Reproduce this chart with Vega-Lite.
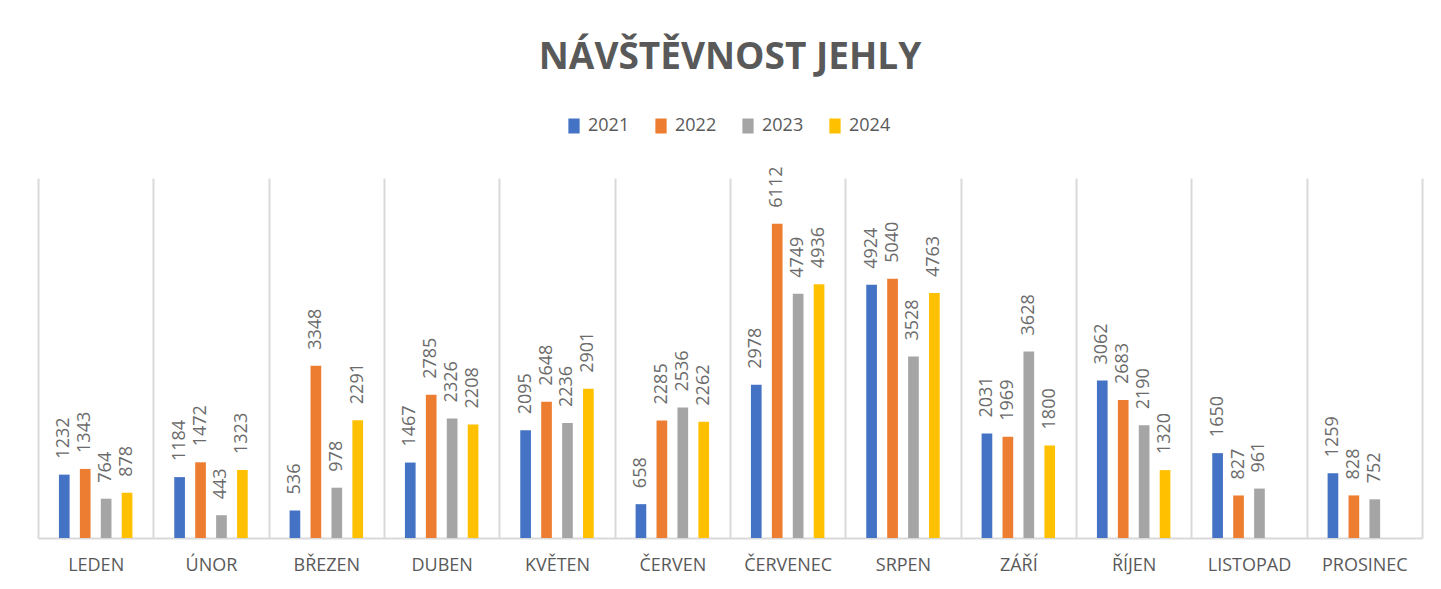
{
  "$schema": "https://vega.github.io/schema/vega-lite/v6.json",
  "width": 1384,
  "height": 360,
  "autosize": {"type": "none"},
  "padding": {"left": 38, "top": 178, "right": 19, "bottom": 51},
  "background": "white",
  "title": {
    "text": "NÁVŠTĚVNOST JEHLY",
    "font": "Open Sans",
    "fontSize": 37,
    "fontWeight": "bold",
    "color": "#595959",
    "anchor": "middle",
    "offset": 40
  },
  "config": {
    "view": {"stroke": null},
    "font": "Open Sans"
  },
  "data": {
    "values": [
      {"mesic": "LEDEN", "rok": "2021", "navstevy": 1232},
      {"mesic": "LEDEN", "rok": "2022", "navstevy": 1343},
      {"mesic": "LEDEN", "rok": "2023", "navstevy": 764},
      {"mesic": "LEDEN", "rok": "2024", "navstevy": 878},
      {"mesic": "ÚNOR", "rok": "2021", "navstevy": 1184},
      {"mesic": "ÚNOR", "rok": "2022", "navstevy": 1472},
      {"mesic": "ÚNOR", "rok": "2023", "navstevy": 443},
      {"mesic": "ÚNOR", "rok": "2024", "navstevy": 1323},
      {"mesic": "BŘEZEN", "rok": "2021", "navstevy": 536},
      {"mesic": "BŘEZEN", "rok": "2022", "navstevy": 3348},
      {"mesic": "BŘEZEN", "rok": "2023", "navstevy": 978},
      {"mesic": "BŘEZEN", "rok": "2024", "navstevy": 2291},
      {"mesic": "DUBEN", "rok": "2021", "navstevy": 1467},
      {"mesic": "DUBEN", "rok": "2022", "navstevy": 2785},
      {"mesic": "DUBEN", "rok": "2023", "navstevy": 2326},
      {"mesic": "DUBEN", "rok": "2024", "navstevy": 2208},
      {"mesic": "KVĚTEN", "rok": "2021", "navstevy": 2095},
      {"mesic": "KVĚTEN", "rok": "2022", "navstevy": 2648},
      {"mesic": "KVĚTEN", "rok": "2023", "navstevy": 2236},
      {"mesic": "KVĚTEN", "rok": "2024", "navstevy": 2901},
      {"mesic": "ČERVEN", "rok": "2021", "navstevy": 658},
      {"mesic": "ČERVEN", "rok": "2022", "navstevy": 2285},
      {"mesic": "ČERVEN", "rok": "2023", "navstevy": 2536},
      {"mesic": "ČERVEN", "rok": "2024", "navstevy": 2262},
      {"mesic": "ČERVENEC", "rok": "2021", "navstevy": 2978},
      {"mesic": "ČERVENEC", "rok": "2022", "navstevy": 6112},
      {"mesic": "ČERVENEC", "rok": "2023", "navstevy": 4749},
      {"mesic": "ČERVENEC", "rok": "2024", "navstevy": 4936},
      {"mesic": "SRPEN", "rok": "2021", "navstevy": 4924},
      {"mesic": "SRPEN", "rok": "2022", "navstevy": 5040},
      {"mesic": "SRPEN", "rok": "2023", "navstevy": 3528},
      {"mesic": "SRPEN", "rok": "2024", "navstevy": 4763},
      {"mesic": "ZÁŘÍ", "rok": "2021", "navstevy": 2031},
      {"mesic": "ZÁŘÍ", "rok": "2022", "navstevy": 1969},
      {"mesic": "ZÁŘÍ", "rok": "2023", "navstevy": 3628},
      {"mesic": "ZÁŘÍ", "rok": "2024", "navstevy": 1800},
      {"mesic": "ŘÍJEN", "rok": "2021", "navstevy": 3062},
      {"mesic": "ŘÍJEN", "rok": "2022", "navstevy": 2683},
      {"mesic": "ŘÍJEN", "rok": "2023", "navstevy": 2190},
      {"mesic": "ŘÍJEN", "rok": "2024", "navstevy": 1320},
      {"mesic": "LISTOPAD", "rok": "2021", "navstevy": 1650},
      {"mesic": "LISTOPAD", "rok": "2022", "navstevy": 827},
      {"mesic": "LISTOPAD", "rok": "2023", "navstevy": 961},
      {"mesic": "PROSINEC", "rok": "2021", "navstevy": 1259},
      {"mesic": "PROSINEC", "rok": "2022", "navstevy": 828},
      {"mesic": "PROSINEC", "rok": "2023", "navstevy": 752}
    ]
  },
  "encoding": {
    "x": {
      "field": "mesic",
      "type": "nominal",
      "sort": ["LEDEN", "ÚNOR", "BŘEZEN", "DUBEN", "KVĚTEN", "ČERVEN", "ČERVENEC", "SRPEN", "ZÁŘÍ", "ŘÍJEN", "LISTOPAD", "PROSINEC"],
      "scale": {"paddingInner": 0, "paddingOuter": 0},
      "axis": {
        "title": null,
        "labelAngle": 0,
        "labelFont": "Open Sans",
        "labelFontSize": 18,
        "labelColor": "#595959",
        "labelPadding": 18,
        "ticks": false,
        "tickBand": "extent",
        "grid": true,
        "gridColor": "#d9d9d9",
        "gridWidth": 2,
        "domainColor": "#d9d9d9",
        "domainWidth": 2
      }
    },
    "xOffset": {
      "field": "rok",
      "type": "nominal",
      "scale": {"paddingInner": 0.49, "paddingOuter": 1.2}
    },
    "y": {
      "field": "navstevy",
      "type": "quantitative",
      "scale": {"domain": [0, 7000]},
      "axis": null
    }
  },
  "layer": [
    {
      "mark": {"type": "bar"},
      "encoding": {
        "color": {
          "field": "rok",
          "type": "nominal",
          "scale": {"domain": ["2021", "2022", "2023", "2024"], "range": ["#4472C4", "#ED7D31", "#A5A5A5", "#FFC000"]},
          "legend": {
            "title": null,
            "orient": "none",
            "direction": "horizontal",
            "legendX": 527,
            "legendY": -61,
            "symbolType": "M-0.75,-1H0.75V1H-0.75Z",
            "symbolSize": 225,
            "symbolStrokeWidth": 0,
            "labelFont": "Open Sans",
            "labelFontSize": 18,
            "labelColor": "#595959",
            "labelOffset": 5,
            "columnPadding": 22
          }
        }
      }
    },
    {
      "mark": {"type": "text", "angle": 270, "align": "left", "baseline": "middle", "dx": 16, "fontSize": 18, "color": "#6b6b6b", "font": "Open Sans"},
      "encoding": {
        "text": {"field": "navstevy", "type": "quantitative", "format": "d"}
      }
    }
  ]
}
